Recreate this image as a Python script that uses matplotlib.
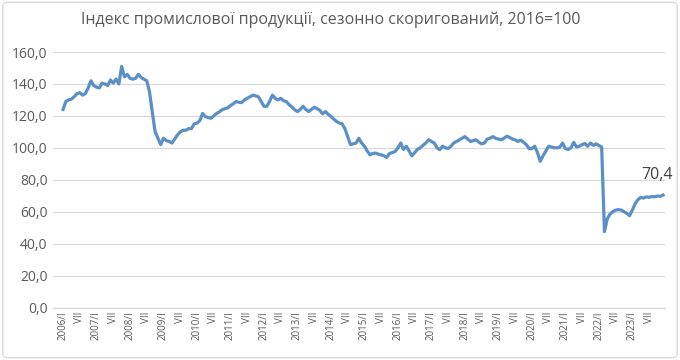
import matplotlib
matplotlib.use("Agg")
import matplotlib.pyplot as plt
from matplotlib.patches import FancyBboxPatch

plt.rcParams['font.family'] = ['Open Sans', 'DejaVu Sans']

title = "Індекс промислової продукції, сезонно скоригований, 2016=100"

years = list(range(2006, 2024))
v2006 = [124, 129, 130, 130.5, 132, 134, 134.5, 133, 134, 137.5, 142, 139]
v2007 = [138, 137.5, 140.5, 140, 139, 142.5, 140.5, 143, 140, 151, 144.5, 146]
v2008 = [143.5, 143, 143.5, 146, 144, 143, 142, 135, 122, 110, 106, 102]
v2009 = [106, 104.5, 104, 103, 105.5, 108, 110, 111, 111, 112, 112, 115]
v2010 = [115.5, 117, 121.5, 119.5, 119, 118.5, 120, 121.5, 122.5, 123.8, 124.5, 125]
v2011 = [126.5, 127.5, 129, 128.5, 128.3, 130, 131, 132, 133, 132.5, 132, 129]
v2012 = [126, 126, 129, 133, 131, 130, 131, 129.5, 129, 127, 125.5, 123.8]
v2013 = [122.7, 124, 126, 124, 122.7, 124, 125.4, 124.5, 123.5, 121.3, 122.7, 121]
v2014 = [119.6, 118, 116.5, 115.5, 115, 112, 107, 102, 102.5, 103, 106, 103]
v2015 = [101, 98, 95.6, 96.5, 96.7, 96, 95.6, 95, 94, 96.5, 97, 97.7]
v2016 = [100, 103, 99, 101, 98, 95, 97, 99, 100, 101.6, 103, 105]
v2017 = [104, 103, 100, 98.8, 101, 100, 99.6, 101, 103, 104, 105, 106]
v2018 = [107, 105.5, 104, 104.5, 105, 103.5, 102.5, 103, 105.5, 106, 107, 106]
v2019 = [105.5, 105, 106, 107.3, 106.5, 105.5, 105, 104, 104.8, 103.5, 102, 99.5]
v2020 = [99.5, 101, 97, 91.5, 95, 98, 101, 100.5, 100, 100, 100.4, 103]
v2021 = [99.5, 99, 100, 103.4, 100.5, 101, 102, 102.7, 101, 103, 101.5, 102.5]
v2022 = [101.5, 100.5, 47.5, 55.5, 58.5, 60, 61, 61.3, 61, 60, 59, 57.5]
v2023 = [61, 65, 67.5, 69, 68.5, 69.3, 69, 69.5, 69.3, 69.8, 69.6, 70.4]

values = (v2006 + v2007 + v2008 + v2009 + v2010 + v2011 + v2012 + v2013 + v2014
          + v2015 + v2016 + v2017 + v2018 + v2019 + v2020 + v2021 + v2022 + v2023)

tick_labels = []
for y in years:
    tick_labels += [f"{y}/I", "VII"]

y_ticks = [0, 20, 40, 60, 80, 100, 120, 140, 160]
last_label = "70,4"

fig = plt.figure(figsize=(6.8, 3.6), dpi=100)
ax = fig.add_axes([53/680, 1 - 307.5/360, (665-53)/680, (307.5-52)/360])

x = list(range(len(values)))
ax.plot(x, values, color='#5B8FC7', lw=2.3, solid_joinstyle='round')

ax.set_ylim(0, 160)
ax.set_xlim(-3.6, len(values) - 0.3)
ax.set_yticks(y_ticks)
ax.set_yticklabels([f"{t},0" for t in y_ticks], fontsize=10, color='#595959')
ax.set_xticks(list(range(0, len(values), 6)))
ax.set_xticklabels(tick_labels, rotation=90, fontsize=7, color='#595959')
ax.tick_params(axis='both', length=0, pad=4)
ax.tick_params(axis='x', pad=3)
ax.grid(axis='y', color='#D9D9D9', lw=0.9)
ax.set_axisbelow(True)
for s in ['top', 'right', 'left']:
    ax.spines[s].set_visible(False)
ax.spines['bottom'].set_color('#D9D9D9')
ax.spines['bottom'].set_linewidth(0.9)

ax.annotate(last_label, (x[-1], values[-1]), xytext=(-4, 9), textcoords='offset points',
            ha='center', va='bottom', fontsize=11.5, color='#404040')

fig.text(331/680, 1 - 20/360, title, ha='center', va='center', fontsize=11.5, color='#595959')

border = FancyBboxPatch((0.004, 0.006), 0.992, 0.988, boxstyle="round,pad=0,rounding_size=0.01",
                        transform=fig.transFigure, fill=False, ec='#D9D9D9', lw=1)
fig.patches.append(border)

fig.savefig("out.png", dpi=100)
